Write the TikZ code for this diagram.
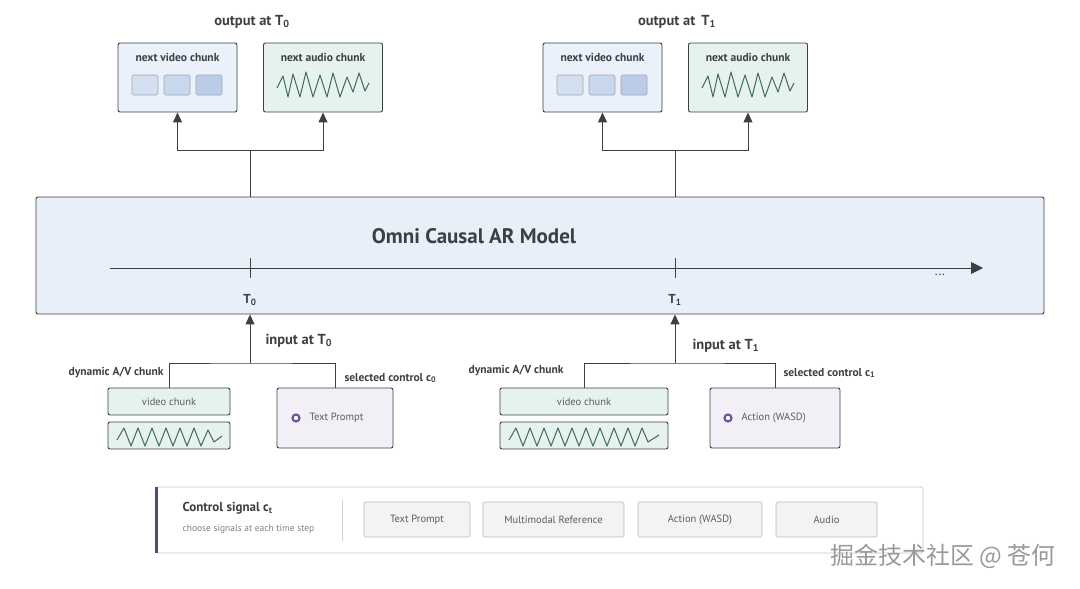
\documentclass[tikz,border=0pt]{standalone}
\usepackage{fontspec}
\setmainfont{PT Sans}
\newfontfamily\cjk{Noto Sans CJK SC}
\usetikzlibrary{arrows.meta,positioning}

\definecolor{linegray}{HTML}{3C4043}
\definecolor{modelblue}{HTML}{E8EFF8}
\definecolor{vidblue}{HTML}{EAF1FA}
\definecolor{sqlight}{HTML}{D3E0F1}
\definecolor{sqmid}{HTML}{C7D7EE}
\definecolor{sqdark}{HTML}{B9CDEA}
\definecolor{audgreen}{HTML}{E6F2EC}
\definecolor{wavegreen}{HTML}{3F6B5A}
\definecolor{ctrlpurple}{HTML}{F2EFF7}
\definecolor{dotpurple}{HTML}{6E5A96}
\definecolor{btngray}{HTML}{F3F3F3}

\newcommand{\fs}[1]{\fontsize{#1}{#1}\selectfont}

\begin{document}
\begin{tikzpicture}[
    x=1pt, y=-1pt,
    box/.style={draw=linegray, line width=0.9pt, rounded corners=2pt},
    outbox/.style={box, minimum width=119pt, minimum height=69pt},
    sq/.style={draw=gray!70, line width=0.6pt, rounded corners=1.5pt, minimum width=26pt, minimum height=20pt},
    boxlabel/.style={font=\bfseries\fs{11.5}, text=linegray},
    title/.style={font=\bfseries\fs{14.5}, text=linegray},
    line/.style={draw=linegray, line width=1pt},
    arr/.style={line, -{Triangle[length=10pt,width=9pt]}},
    wave/.style={draw=wavegreen, line width=1pt, line join=round},
    small/.style={font=\fs{10.5}, text=linegray!85},
    btn/.style={draw=gray!55, fill=btngray, line width=0.6pt, rounded corners=1.5pt, minimum height=35pt, font=\fs{10.5}, text=linegray!85},
    dot/.style={circle, draw=dotpurple, line width=2.2pt, fill=white, inner sep=0pt, minimum size=7pt}
]
\useasboundingbox (0,0) rectangle (1080,589);

% Model
\node[box, fill=modelblue, minimum width=1008pt, minimum height=117pt] (model) at (540,255.5) {};
\node[font=\bfseries\fs{21}, text=linegray] (mtitle) at (474,236) {Omni Causal AR Model};
\coordinate (tl0) at (110,268);
\coordinate (tl1) at (983,268);
\draw[line, -{Triangle[length=12pt,width=12pt]}] (tl0) -- (tl1);
\draw[line] (250,258) -- (250,278);
\draw[line] (675,258) -- (675,278);
\node[font=\bfseries\fs{13}, text=linegray] (t0) at (250,300) {T\textsubscript{0}};
\node[font=\bfseries\fs{13}, text=linegray] (t1) at (675,300) {T\textsubscript{1}};
\node[font=\fs{13}, text=linegray] (dots) at (940,275) {...};

% Output at T0
\node[title] (out0) at (252,22) {output at T\textsubscript{0}};
\node[outbox, fill=vidblue] (nv0) at (177.5,77.5) {};
\node[boxlabel, below=7pt of nv0.north] (nvl0) {next video chunk};
\node[sq, fill=sqlight] (sqa0) at (145,85) {};
\node[sq, fill=sqmid] (sqb0) at (177,85) {};
\node[sq, fill=sqdark] (sqc0) at (209,85) {};
\node[outbox, fill=audgreen] (na0) at (323,77.5) {};
\node[boxlabel, below=7pt of na0.north] (nal0) {next audio chunk};
\draw[wave] plot coordinates {(277,88) (283,76) (288,97) (293,74) (300,97) (306,72) (313,97) (320,75)
    (327,97) (333,73) (340,97) (347,77) (353,92) (359,73) (365,91) (369,83)};
\coordinate (j0) at (250,150);
\draw[line] (model.north -| j0) -- (j0);
\draw[arr] (j0) -| (nv0.south);
\draw[arr] (j0) -| (na0.south);

% Output at T1
\begin{scope}[xshift=425pt]
    \node[title] (out1) at (252,22) {output at\, T\textsubscript{1}};
    \node[outbox, fill=vidblue] (nv1) at (177.5,77.5) {};
    \node[boxlabel, below=7pt of nv1.north] (nvl1) {next video chunk};
    \node[sq, fill=sqlight] (sqa1) at (145,85) {};
    \node[sq, fill=sqmid] (sqb1) at (177,85) {};
    \node[sq, fill=sqdark] (sqc1) at (209,85) {};
    \node[outbox, fill=audgreen] (na1) at (323,77.5) {};
    \node[boxlabel, below=7pt of na1.north] (nal1) {next audio chunk};
    \draw[wave] plot coordinates {(277,88) (283,76) (288,97) (293,74) (300,97) (306,72) (313,97) (320,75)
        (327,97) (333,73) (340,97) (347,77) (353,92) (359,73) (365,91) (369,83)};
    \coordinate (j1) at (250,150);
\end{scope}
\draw[line] (model.north -| j1) -- (j1);
\draw[arr] (j1) -| (nv1.south);
\draw[arr] (j1) -| (na1.south);

% Input at T0
\node[title, anchor=west] (in0) at (262,341) {input at T\textsubscript{0}};
\node[box, fill=audgreen, minimum width=122pt, minimum height=27pt, small] (vc0) at (169,401.5) {video chunk};
\node[box, fill=audgreen, minimum width=122pt, minimum height=27pt] (wv0) at (169,435.5) {};
\draw[wave] plot coordinates {(117,440) (124,428) (131,446) (138,428) (145,446) (152,428) (159,446)
    (166,428) (173,446) (180,428) (187,446) (194,428) (201,446) (208,430) (214,442) (222,436)};
\node[box, fill=ctrlpurple, minimum width=116pt, minimum height=60pt] (tp0) at (335,418) {};
\node[dot] (d0) at (296,418) {};
\node[small, anchor=west] (tpl0) at (306,418) {Text Prompt};
\node[boxlabel, anchor=east] (dyn0) at (167,373) {dynamic A/V chunk};
\node[boxlabel, anchor=west] (sel0) at (341,378) {selected control c\textsubscript{0}};
\coordinate (ij0) at (250,363);
\draw[arr] (ij0) -- (model.south -| ij0);
\draw[line] (vc0.north) |- (ij0) -| (tp0.north);

% Input at T1
\node[title, anchor=west] (in1) at (689,346) {input at T\textsubscript{1}};
\node[box, fill=audgreen, minimum width=168pt, minimum height=27pt, small] (vc1) at (584,401.5) {video chunk};
\node[box, fill=audgreen, minimum width=168pt, minimum height=27pt] (wv1) at (584,435.5) {};
\draw[wave] plot coordinates {(509,440) (516,428) (523,446) (530,428) (537,446) (544,428) (551,446)
    (558,428) (565,446) (572,428) (579,446) (586,428) (593,446) (600,428) (607,446) (614,428)
    (621,446) (628,428) (635,446) (642,428) (648,442) (659,435)};
\node[box, fill=ctrlpurple, minimum width=130pt, minimum height=60pt] (ac1) at (775,418) {};
\node[dot] (d1) at (728,418) {};
\node[small, anchor=west] (acl1) at (738,418) {Action (WASD)};
\node[boxlabel, anchor=east] (dyn1) at (567,371) {dynamic A/V chunk};
\node[boxlabel, anchor=west] (sel1) at (780,373) {selected control c\textsubscript{1}};
\coordinate (ij1) at (675,363);
\draw[arr] (ij1) -- (model.south -| ij1);
\draw[line] (vc1.north) |- (ij1) -| (ac1.north);

% Control signal panel
\node[draw=gray!45, fill=white, line width=0.8pt, rounded corners=1.5pt, minimum width=767pt, minimum height=66pt] (ctrl) at (539.5,520) {};
\draw[draw=dotpurple!80!black, line width=2.5pt] (ctrl.north west) ++(1,0) -- ([xshift=1pt]ctrl.south west);
\node[font=\bfseries\fs{13}, text=linegray, anchor=west] (ctitle) at (179,508) {Control signal c\textsubscript{t}};
\node[font=\fs{9.5}, text=gray, anchor=west] (csub) at (179,529) {choose signals at each time step};
\draw[gray!35, line width=0.8pt] (342,500) -- (342,541);
\node[btn, minimum width=106pt] (b1) at (417,519.5) {Text Prompt};
\node[btn, minimum width=141pt] (b2) at (553.5,519.5) {Multimodal Reference};
\node[btn, minimum width=124pt] (b3) at (700,519.5) {Action (WASD)};
\node[btn, minimum width=101pt] (b4) at (826.5,519.5) {Audio};

% Watermark
\node[font=\cjk\fs{24}, text=gray!80] (wm) at (943,556) {掘金技术社区 @ 苍何};

\end{tikzpicture}
\end{document}
